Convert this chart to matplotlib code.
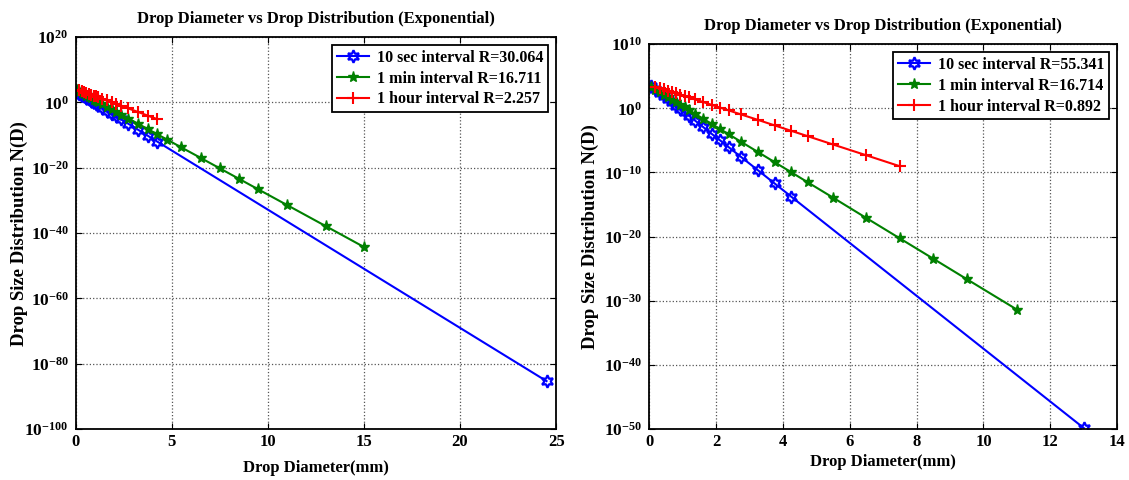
import numpy as np
import matplotlib
matplotlib.use("Agg")
import matplotlib.pyplot as plt
from matplotlib.ticker import FixedLocator, FuncFormatter, NullLocator

plt.rcParams['font.family'] = ['Liberation Serif', 'DejaVu Serif']
plt.rcParams['font.weight'] = 'bold'
plt.rcParams['mathtext.fontset'] = 'custom'
plt.rcParams['mathtext.rm'] = 'Liberation Serif:bold'
plt.rcParams['mathtext.bf'] = 'Liberation Serif:bold'
plt.rcParams['mathtext.it'] = 'Liberation Serif:bold:italic'

# drop diameter classes (mm)
d_small = [0.062, 0.187, 0.312, 0.437, 0.562, 0.687, 0.812, 0.937, 1.062, 1.187,
           1.375, 1.625, 1.875, 2.125, 2.375, 2.75, 3.25, 3.75, 4.25]

# ---- left panel ----
left_blue_d = d_small + [24.5]
left_blue_n = [1.5e3, 5.3e2, 1.9e2, 66, 23, 8.1, 2.9, 1.0, 0.36, 0.13,
               2.6e-2, 3.3e-3, 4.1e-4, 5.1e-5, 6.3e-6, 2.8e-7, 4.3e-9, 6.6e-11, 1.0e-12,
               5e-86]
left_green_d = d_small + [4.75, 5.5, 6.5, 7.5, 8.5, 9.5, 11, 13, 15]
left_green_n = [5.0e3, 2.0e3, 7.9e2, 3.2e2, 1.3e2, 49, 19.5, 7.8, 3.1, 1.2,
                0.31, 4.8e-2, 7.6e-3, 1.2e-3, 1.9e-4, 1.2e-5, 2.9e-7, 7.2e-9, 1.8e-10,
                4.5e-12, 1.7e-14, 1.1e-17, 6.7e-21, 4.1e-24, 2.5e-27, 3.9e-32, 1.5e-38, 5.6e-45]
left_red_d = d_small[1:]
left_red_n = [5.5e3, 2.9e3, 1.6e3, 8.4e2, 4.5e2, 2.4e2, 1.3e2, 68, 36,
              14, 4.0, 1.15, 0.33, 9.4e-2, 1.4e-2, 1.2e-3, 9.3e-5, 7.6e-6]
left_labels = ['10 sec interval R=30.064', '1 min interval R=16.711', '1 hour interval R=2.257']

# ---- right panel ----
right_blue_d = d_small + [13]
right_blue_n = [3.1e3, 9.5e2, 2.9e2, 89, 27, 8.3, 2.5, 0.77, 0.23, 7.2e-2,
                1.2e-2, 1.1e-3, 1.0e-4, 9.8e-6, 9.1e-7, 2.6e-8, 2.3e-10, 2.0e-12, 1.7e-14,
                1.5e-50]
right_green_d = d_small + [4.75, 5.5, 6.5, 7.5, 8.5, 9.5, 11]
right_green_n = [2.0e3, 8.1e2, 3.2e2, 1.3e2, 52, 21, 8.4, 3.4, 1.35, 0.55,
                 0.14, 2.2e-2, 3.6e-3, 5.8e-4, 9.3e-5, 6.0e-6, 1.6e-7, 4.1e-9, 1.1e-10,
                 2.8e-12, 1.2e-14, 7.8e-18, 5.3e-21, 3.6e-24, 2.4e-27, 4.3e-32]
right_red_d = d_small[1:] + [4.75, 5.5, 6.5, 7.5]
right_red_n = [2.5e3, 1.5e3, 9.5e2, 5.8e2, 3.5e2, 2.2e2, 1.3e2, 82, 50,
               24, 9.1, 3.4, 1.28, 0.48, 0.11, 1.6e-2, 2.2e-3, 3.1e-4,
               4.4e-5, 2.3e-6, 4.7e-8, 9.3e-10]
right_labels = ['10 sec interval R=55.341', '1 min interval R=16.714', '1 hour interval R=0.892']

title = 'Drop Diameter vs Drop Distribution (Exponential)'
hexagram = (6, 1, 0)


def exp_fmt(v, pos):
    e = int(round(np.log10(v)))
    return r'$\mathbf{10^{%d}}$' % e


def panel(ax, blue, green, red, labels, xlim, xticks, yexp):
    ax.semilogy(blue[0], blue[1], color='blue', lw=1.5, marker=hexagram, ms=9,
                mfc='none', mew=1.6, label=labels[0])
    ax.semilogy(green[0], green[1], color='green', lw=1.5, marker='*', ms=8,
                label=labels[1])
    ax.semilogy(red[0], red[1], color='red', lw=1.5, marker='+', ms=9, mew=1.5,
                label=labels[2])
    ax.set_xlim(*xlim)
    ax.set_xticks(xticks)
    ax.set_ylim(10.0 ** yexp[-1], 10.0 ** yexp[0])
    ax.yaxis.set_major_locator(FixedLocator([10.0 ** e for e in yexp]))
    ax.yaxis.set_minor_locator(NullLocator())
    ax.yaxis.set_major_formatter(FuncFormatter(exp_fmt))
    ax.grid(True, color='#555555', ls=':', lw=0.9)
    ax.tick_params(axis='x', direction='in', top=True, labelsize=12, length=4)
    ax.tick_params(axis='y', direction='in', right=True, labelsize=12.5, length=4, pad=5)
    for s in ax.spines.values():
        s.set_linewidth(1.3)
    ax.set_title(title, fontsize=12, fontweight='bold', pad=10)
    ax.set_xlabel('Drop Diameter(mm)', fontsize=12, fontweight='bold')
    ax.set_ylabel('Drop Size Distribution N(D)', fontsize=13.5, fontweight='bold')
    leg = ax.legend(loc='upper right', fontsize=11.5, fancybox=False, framealpha=1,
                    edgecolor='black', borderaxespad=0.5, handlelength=2.0,
                    handletextpad=0.5, labelspacing=0.3, borderpad=0.3)
    leg.get_frame().set_linewidth(1.3)


fig = plt.figure(figsize=(11.29, 4.8), dpi=100)
ax1 = fig.add_axes([0.067, 0.106, 0.4256, 0.8167])
ax2 = fig.add_axes([0.575, 0.106, 0.4145, 0.802])

panel(ax1, (left_blue_d, left_blue_n), (left_green_d, left_green_n),
      (left_red_d, left_red_n), left_labels, (0, 25), [0, 5, 10, 15, 20, 25],
      [20, 0, -20, -40, -60, -80, -100])
panel(ax2, (right_blue_d, right_blue_n), (right_green_d, right_green_n),
      (right_red_d, right_red_n), right_labels, (0, 14), [0, 2, 4, 6, 8, 10, 12, 14],
      [10, 0, -10, -20, -30, -40, -50])
ax1.xaxis.labelpad = 7
ax2.xaxis.labelpad = 3
ax1.yaxis.set_label_coords(-0.099, 0.5)
ax2.yaxis.set_label_coords(-0.107, 0.5)

fig.savefig('out.png', dpi=100)
